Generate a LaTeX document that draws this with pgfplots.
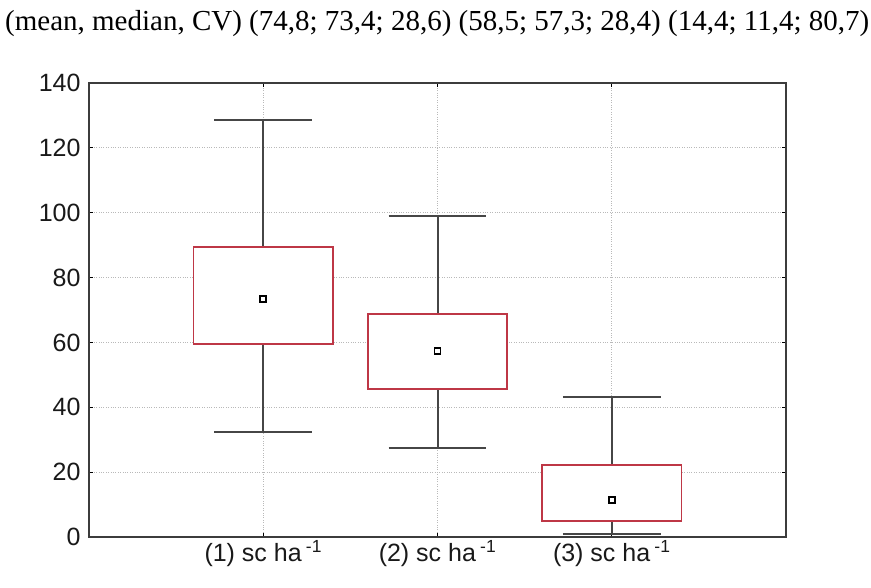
\documentclass[border=0pt]{standalone}
\usepackage{pgfplots}
\pgfplotsset{compat=1.18}
\usepackage{fontspec}
\setmainfont{Liberation Sans}
\newfontfamily\titlefont{Liberation Serif}
\definecolor{boxred}{RGB}{190,55,70}
\definecolor{whisk}{RGB}{70,70,70}
\definecolor{frame}{RGB}{60,60,60}
\begin{document}
\begin{tikzpicture}
\begin{axis}[
  name=ax,
  at={(0,0)}, anchor=south west,
  scale only axis,
  width=697pt, height=454pt,
  xmin=0, xmax=4, ymin=0, ymax=140,
  xtick={1,2,3},
  xticklabels={(1) sc ha\,\textsuperscript{-1},(2) sc ha\,\textsuperscript{-1},(3) sc ha\,\textsuperscript{-1}},
  ytick={0,20,...,140},
  /pgf/number format/assume math mode=true,
  tick label style={font=\fontsize{25}{29}\selectfont, text=black!90},
  xticklabel style={yshift=0pt},
  yticklabel style={xshift=-5pt},
  tick align=inside,
  major tick length=4pt,
  tick style={black, line width=1.2pt},
  axis line style={frame, line width=2pt},
  grid=major,
  major grid style={gray!55, dotted, line width=1pt},
  clip=false,
  unbounded coords=jump,
  whisker/.style={draw=whisk, line width=2pt, mark=none},
  box/.style={draw=boxred, fill=white, line width=1.8pt, mark=none},
]
% whiskers: stems and caps
\addplot[whisker] coordinates {(1,32.4) (1,128.6) (nan,nan) (0.72,128.6) (1.28,128.6) (nan,nan) (0.72,32.4) (1.28,32.4)};
\addplot[whisker] coordinates {(2,27.4) (2,99.0) (nan,nan) (1.72,99.0) (2.28,99.0) (nan,nan) (1.72,27.4) (2.28,27.4)};
\addplot[whisker] coordinates {(3,0.9) (3,43.2) (nan,nan) (2.72,43.2) (3.28,43.2) (nan,nan) (2.72,0.9) (3.28,0.9)};
% boxes (quartiles)
\addplot[box] coordinates {(0.6,59.5) (1.4,59.5) (1.4,89.4) (0.6,89.4)} -- cycle;
\addplot[box] coordinates {(1.6,45.6) (2.4,45.6) (2.4,68.8) (1.6,68.8)} -- cycle;
\addplot[box] coordinates {(2.6,4.9) (3.4,4.9) (3.4,22.2) (2.6,22.2)} -- cycle;
% medians
\addplot[only marks, mark=square, mark size=3pt, mark options={black, line width=1.6pt, fill=white}]
  coordinates {(1,73.4) (2,57.3) (3,11.4)};
\end{axis}
\node[anchor=base west, inner sep=0pt, font=\titlefont\fontsize{29}{32}\selectfont]
  at ([xshift=-84pt, yshift=52pt]ax.north west)
  {(mean, median, CV) (74,8; 73,4; 28,6) (58,5; 57,3; 28,4) (14,4; 11,4; 80,7)};
\pgfresetboundingbox
\path[use as bounding box] (-89pt,-50pt) rectangle (782pt,537pt);
\end{tikzpicture}
\end{document}
